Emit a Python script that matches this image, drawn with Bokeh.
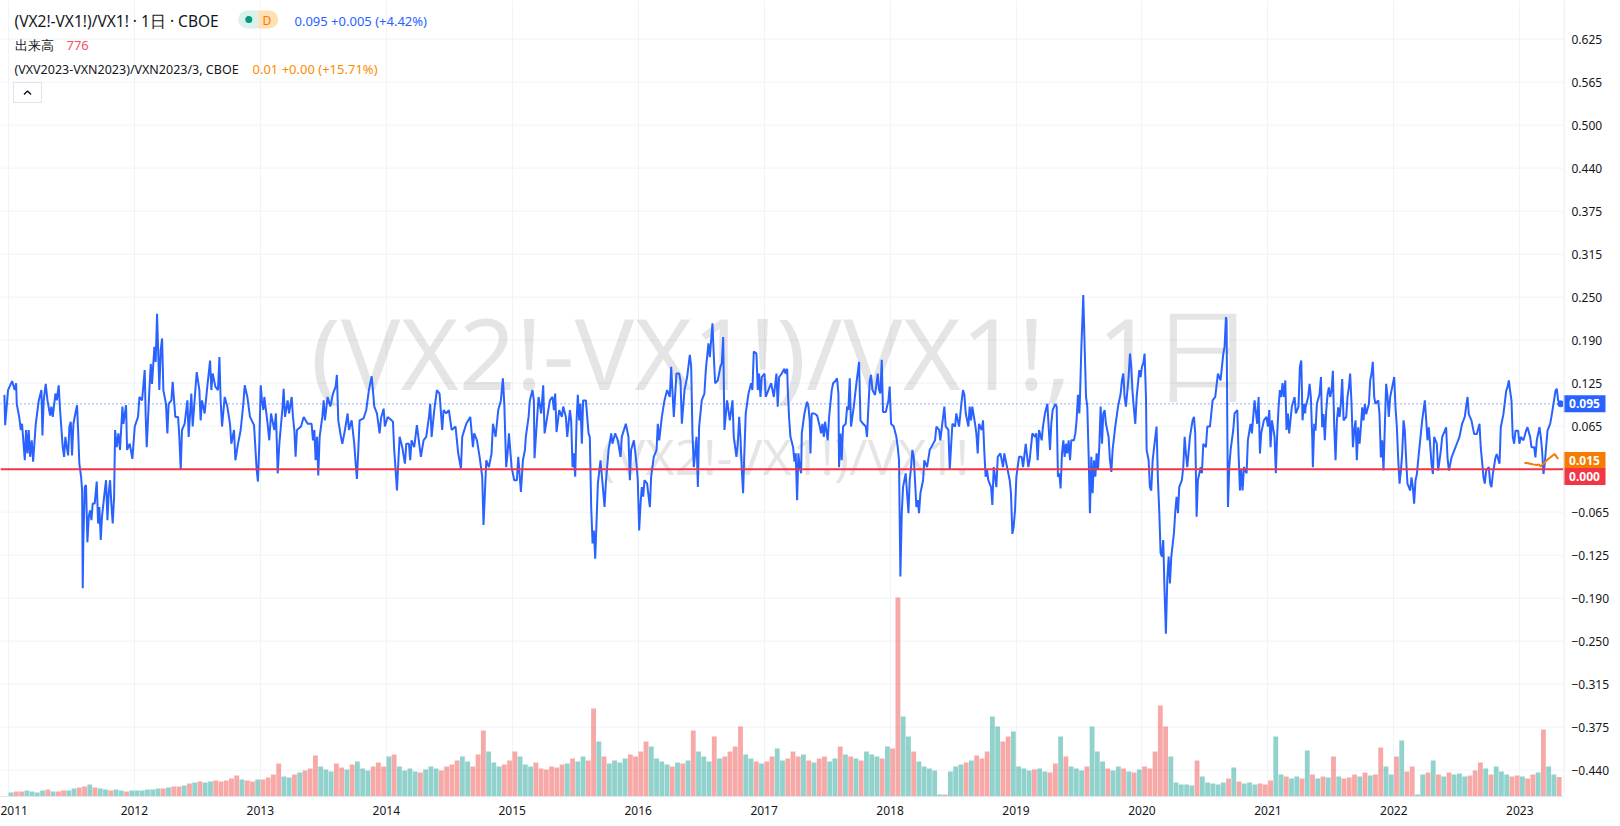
import numpy as np
from bokeh.plotting import figure
from bokeh.models import Range1d, FixedTicker, Label, Span, Grid
from bokeh.layouts import row
from bokeh.core.properties import value
from bokeh.embed import file_html
from bokeh.resources import INLINE

# ---------------- data ----------------
blue_t = [
2010.968,2010.974,2010.997,2011.029,2011.050,2011.061,2011.066,2011.087,2011.098,2011.108,2011.130,2011.140,2011.151,2011.161,2011.172,2011.185,2011.196,2011.206,2011.217,2011.241,
2011.262,2011.270,2011.280,2011.296,2011.310,2011.331,2011.341,2011.352,2011.373,2011.384,2011.399,2011.410,2011.431,2011.442,2011.452,2011.463,2011.474,2011.484,2011.495,2011.505,
2011.516,2011.537,2011.545,2011.553,2011.563,2011.577,2011.585,2011.590,2011.595,2011.606,2011.616,2011.627,2011.638,2011.648,2011.659,2011.669,2011.685,2011.701,2011.712,2011.722,
2011.733,2011.743,2011.765,2011.775,2011.786,2011.796,2011.807,2011.817,2011.828,2011.839,2011.847,2011.860,2011.873,2011.886,2011.905,2011.913,2011.934,2011.942,2011.963,2011.984,
2012.003,2012.029,2012.040,2012.061,2012.082,2012.090,2012.098,2012.119,2012.130,2012.140,2012.159,2012.169,2012.180,2012.188,2012.198,2012.209,2012.220,2012.230,2012.251,2012.262,
2012.272,2012.294,2012.304,2012.325,2012.347,2012.357,2012.368,2012.378,2012.399,2012.421,2012.431,2012.452,2012.463,2012.484,2012.495,2012.516,2012.526,2012.537,2012.558,2012.579,
2012.601,2012.611,2012.622,2012.643,2012.664,2012.675,2012.685,2012.696,2012.717,2012.738,2012.759,2012.770,2012.791,2012.802,2012.823,2012.844,2012.865,2012.876,2012.897,2012.918,
2012.950,2012.971,2012.981,2012.992,2013.003,2013.013,2013.024,
2013.032,2013.058,2013.071,2013.085,2013.111,2013.124,2013.138,2013.151,2013.177,2013.185,2013.196,2013.217,2013.228,2013.249,2013.259,2013.270,2013.280,2013.291,2013.323,2013.344,
2013.376,2013.407,2013.418,2013.429,2013.439,2013.450,2013.460,2013.471,2013.492,2013.503,2013.513,2013.534,2013.556,2013.577,2013.598,2013.608,2013.619,2013.640,2013.651,2013.672,
2013.693,2013.704,2013.725,2013.746,2013.757,2013.767,2013.778,2013.788,2013.820,2013.841,2013.862,2013.884,2013.894,2013.905,2013.926,2013.947,2013.958,2013.979,2013.989,2014.011,
2014.042,2014.053,2014.063,2014.074,2014.085,2014.095,2014.106,2014.127,2014.148,2014.159,2014.180,2014.190,2014.201,2014.222,2014.243,2014.265,2014.275,2014.296,2014.317,2014.339,
2014.349,2014.360,2014.381,2014.402,2014.423,2014.444,2014.455,2014.476,2014.497,2014.519,2014.550,2014.571,2014.593,2014.603,2014.635,2014.667,2014.688,2014.698,2014.720,2014.741,
2014.762,2014.772,2014.783,2014.794,2014.815,2014.836,2014.847,2014.868,2014.889,2014.910,2014.926,2014.937,2014.952,2014.963,2014.974,2014.995,2015.016,2015.037,2015.048,2015.069,
2015.085,2015.101,
2015.108,2015.130,2015.140,2015.161,2015.172,2015.177,2015.188,2015.209,2015.230,2015.246,2015.257,2015.278,2015.299,2015.320,2015.331,2015.341,2015.352,2015.373,2015.394,2015.405,
2015.426,2015.437,2015.458,2015.468,2015.479,2015.489,2015.500,2015.511,2015.521,2015.532,2015.542,2015.553,2015.563,2015.585,2015.606,2015.616,2015.627,2015.638,2015.648,2015.659,
2015.669,2015.680,2015.701,2015.722,2015.733,2015.743,2015.765,2015.786,2015.796,2015.817,2015.839,2015.860,2015.870,2015.902,2015.923,2015.934,2015.944,2015.966,2015.987,2015.997,
2016.008,2016.019,2016.029,2016.040,2016.050,2016.071,2016.093,2016.103,2016.124,2016.146,2016.156,2016.167,2016.188,2016.209,2016.230,2016.251,2016.262,2016.283,2016.304,2016.325,
2016.336,2016.347,2016.368,2016.389,2016.410,2016.421,2016.431,2016.442,2016.452,2016.463,2016.474,2016.484,2016.505,2016.526,2016.537,2016.558,2016.569,2016.590,2016.601,2016.611,
2016.632,2016.653,2016.664,2016.675,2016.685,2016.706,2016.728,2016.749,2016.759,2016.780,2016.791,2016.802,2016.812,2016.823,2016.833,2016.844,2016.854,2016.876,2016.897,2016.907,
2016.918,2016.939,2016.950,2016.960,2016.971,2016.981,2017.003,2017.013,2017.034,2017.056,2017.077,2017.098,2017.108,2017.119,2017.140,2017.161,
2017.169,2017.183,2017.188,2017.198,2017.209,2017.230,2017.241,2017.251,2017.262,2017.272,2017.283,2017.294,2017.299,2017.320,2017.341,2017.352,2017.362,2017.368,2017.378,2017.399,
2017.421,2017.442,2017.452,2017.463,2017.474,2017.484,2017.505,2017.516,2017.537,2017.548,2017.569,2017.579,2017.590,2017.595,2017.606,2017.616,2017.627,2017.648,2017.659,2017.669,
2017.680,2017.690,2017.712,2017.733,2017.754,2017.765,2017.786,2017.807,2017.817,2017.828,2017.839,2017.849,2017.860,2017.881,2017.902,2017.913,2017.923,2017.934,2017.944,2017.966,
2017.987,2017.997,2018.008,2018.029,2018.050,2018.061,2018.071,2018.082,2018.093,2018.103,2018.124,2018.135,2018.146,2018.156,2018.167,2018.177,2018.188,2018.198,2018.209,2018.220,
2018.230,2018.241,2018.262,2018.272,2018.294,2018.315,2018.336,2018.357,2018.368,2018.389,2018.399,2018.421,2018.431,2018.442,2018.463,2018.474,2018.484,2018.495,2018.516,2018.526,
2018.548,2018.569,2018.579,2018.590,2018.601,2018.622,2018.632,2018.643,2018.653,2018.675,2018.685,2018.696,2018.706,2018.728,2018.738,2018.749,2018.759,2018.770,2018.780,2018.802,
2018.812,2018.823,2018.844,2018.855,2018.876,2018.897,2018.907,2018.929,2018.950,2018.960,2018.971,2018.981,2018.992,2019.003,2019.024,2019.045,2019.056,2019.077,2019.098,2019.108,
2019.130,2019.151,2019.161,2019.172,2019.183,2019.204,2019.214,2019.230,
2019.249,2019.259,2019.270,2019.280,2019.291,2019.312,2019.323,2019.333,2019.344,2019.354,2019.365,2019.376,2019.386,2019.397,2019.407,2019.418,2019.429,2019.439,2019.460,2019.471,
2019.481,2019.492,2019.503,2019.508,2019.519,2019.529,2019.534,2019.545,2019.556,2019.566,2019.577,2019.587,2019.598,2019.608,2019.619,2019.630,2019.640,2019.651,2019.661,2019.672,
2019.683,2019.693,2019.704,2019.714,2019.735,2019.746,2019.757,2019.767,2019.788,2019.810,2019.831,2019.841,2019.852,2019.862,2019.873,2019.894,2019.905,2019.915,2019.926,2019.937,
2019.947,2019.958,2019.979,2019.989,2020.000,2020.011,2020.021,2020.032,2020.037,2020.053,2020.063,2020.074,2020.085,2020.106,2020.116,2020.127,2020.138,2020.148,2020.159,2020.169,
2020.180,2020.190,2020.201,2020.212,2020.222,2020.233,2020.254,2020.265,2020.275,2020.286,2020.296,2020.317,2020.328,2020.339,2020.349,2020.360,2020.381,2020.402,2020.413,2020.423,
2020.434,2020.444,2020.466,2020.476,2020.487,2020.508,2020.519,2020.540,2020.561,2020.582,2020.603,2020.624,2020.646,2020.656,2020.667,2020.672,2020.677,2020.683,2020.693,2020.704,
2020.725,2020.735,2020.757,2020.767,2020.778,2020.788,2020.799,2020.810,2020.831,2020.841,2020.862,2020.873,2020.894,2020.915,2020.926,2020.937,2020.947,2020.968,2020.989,2021.000,
2021.011,2021.021,2021.032,2021.053,2021.063,2021.074,2021.085,2021.095,2021.106,2021.116,2021.127,2021.138,2021.148,2021.159,2021.169,2021.190,2021.212,2021.222,2021.243,2021.254,
2021.265,2021.275,2021.286,2021.296,
2021.299,2021.320,2021.331,2021.341,2021.352,2021.357,2021.368,2021.378,2021.389,2021.410,2021.421,2021.431,2021.442,2021.452,2021.463,2021.474,2021.484,2021.495,2021.505,2021.516,
2021.526,2021.537,2021.548,2021.558,2021.569,2021.579,2021.590,2021.601,2021.622,2021.632,2021.643,2021.653,2021.664,2021.675,2021.685,2021.696,2021.706,2021.717,2021.728,2021.738,
2021.749,2021.759,2021.770,2021.780,2021.802,2021.812,2021.823,2021.833,2021.844,2021.854,2021.876,2021.886,2021.897,2021.907,2021.918,2021.929,2021.939,2021.950,2021.960,2021.971,
2021.992,2022.003,2022.013,2022.024,2022.034,2022.045,2022.056,2022.066,2022.077,2022.087,2022.098,2022.108,2022.130,2022.140,2022.151,2022.161,2022.172,2022.183,2022.193,2022.214,
2022.225,2022.246,2022.257,2022.267,2022.278,2022.299,2022.310,2022.320,2022.341,2022.352,2022.373,2022.384,2022.405,2022.415,2022.426,2022.437,2022.458,2022.479,2022.500,2022.521,
2022.542,2022.563,2022.585,2022.595,2022.616,2022.638,2022.659,2022.680,2022.690,2022.712,2022.722,2022.733,2022.754,2022.765,2022.775,2022.786,2022.807,2022.817,2022.839,2022.849,
2022.870,2022.892,2022.902,2022.913,2022.923,2022.934,2022.944,2022.955,2022.966,2022.987,2022.997,2023.008,2023.029,2023.050,2023.061,2023.082,2023.093,2023.114,2023.124,2023.135,
2023.156,2023.167,2023.177,2023.188,2023.198,2023.220,2023.241,2023.251,2023.272,2023.283,2023.294,2023.304,2023.315,2023.325,
]
blue_v = [
0.108,0.064,0.115,0.128,0.115,0.125,0.095,0.074,0.057,0.066,0.013,0.057,0.023,0.057,0.018,0.042,0.011,0.037,0.066,0.100,
0.115,0.049,0.100,0.124,0.100,0.078,0.091,0.076,0.110,0.100,0.122,0.086,0.032,0.018,0.047,0.032,0.020,0.062,0.069,0.020,
0.066,0.086,0.093,0.057,0.008,-0.011,-0.031,-0.173,-0.103,-0.026,-0.023,-0.106,-0.069,-0.060,-0.074,-0.050,-0.050,-0.018,-0.079,-0.055,
-0.103,-0.069,-0.031,-0.016,-0.074,-0.035,-0.016,-0.050,-0.079,-0.040,0.057,0.032,0.052,0.028,0.091,0.066,0.093,0.028,0.037,0.015,
0.062,0.076,0.105,0.100,0.144,0.076,0.032,0.115,0.153,0.124,0.178,0.156,0.226,0.178,0.115,0.173,0.190,0.115,0.095,0.052,
0.095,0.100,0.127,0.076,0.076,0.047,-0.001,0.057,0.066,0.100,0.047,0.110,0.062,0.115,0.141,0.115,0.071,0.100,0.081,0.120,
0.158,0.115,0.139,0.120,0.115,0.163,0.100,0.062,0.105,0.091,0.066,0.037,0.057,0.013,0.037,0.057,0.095,0.122,0.105,0.076,
0.064,-0.001,-0.018,0.037,0.122,0.100,0.086,
0.105,0.066,0.042,0.081,0.057,0.081,-0.006,0.037,0.091,0.117,0.076,0.100,0.081,0.105,0.076,0.057,0.018,0.057,0.062,0.076,
0.066,0.066,0.042,0.057,0.013,0.047,-0.009,0.047,0.076,0.100,0.071,0.105,0.091,0.110,0.120,0.137,0.071,0.047,0.037,0.057,
0.081,0.057,0.071,0.037,0.008,-0.014,0.028,0.071,0.074,0.086,0.115,0.135,0.115,0.091,0.081,0.052,0.074,0.088,0.062,0.076,
0.071,0.069,0.028,-0.001,-0.031,0.008,0.047,0.032,0.008,0.037,0.037,0.013,0.042,0.032,0.064,0.032,0.018,0.042,0.047,0.076,
0.095,0.047,0.086,0.115,0.110,0.057,0.086,0.081,0.086,0.057,0.062,0.023,0.001,0.047,0.066,0.076,0.032,0.052,0.042,0.018,
-0.011,-0.081,-0.035,0.013,0.003,0.023,0.066,0.047,0.086,0.100,0.132,0.095,0.003,0.023,0.052,0.003,-0.016,-0.016,0.018,-0.033,
0.013,0.028,
0.047,0.076,0.100,0.115,0.100,0.016,0.047,0.105,0.081,0.122,0.052,0.076,0.100,0.105,0.086,0.110,0.054,0.086,0.076,0.091,
0.076,0.047,0.086,0.071,0.003,0.023,-0.011,0.071,0.108,0.071,0.095,0.037,0.100,0.100,0.052,0.047,-0.055,-0.108,-0.089,-0.130,
-0.079,-0.021,0.013,-0.031,-0.055,-0.021,0.028,0.052,0.037,0.052,0.042,0.018,0.047,0.066,0.047,-0.016,0.028,0.042,0.008,-0.016,
-0.089,-0.050,-0.026,-0.040,-0.016,-0.021,-0.055,-0.011,0.018,0.028,0.066,0.042,0.076,0.100,0.115,0.105,0.149,0.076,0.139,0.139,
0.129,0.066,0.115,0.134,0.166,0.149,0.052,0.003,0.023,0.047,-0.026,0.062,0.100,0.110,0.144,0.183,0.163,0.212,0.163,0.125,
0.129,0.149,0.154,0.192,0.057,0.100,0.071,0.100,0.047,0.018,0.037,0.076,0.047,-0.001,-0.035,0.028,0.081,0.110,0.125,0.115,
0.171,0.168,0.115,0.139,0.105,0.134,0.139,0.105,0.115,0.125,0.105,0.139,0.091,0.134,0.139,0.146,
0.139,0.146,0.115,0.076,0.047,0.032,0.011,0.023,-0.045,0.023,0.003,-0.006,0.052,0.081,0.098,0.091,0.071,0.023,0.081,0.081,
0.078,0.062,0.052,0.066,0.047,0.069,0.042,0.076,0.115,0.125,0.129,0.132,0.110,0.003,0.052,0.013,0.062,0.066,0.091,0.086,
0.132,0.062,0.091,0.125,0.156,0.071,0.066,0.062,0.047,0.091,0.129,0.137,0.115,0.108,0.139,0.115,0.110,0.159,0.083,0.083,
0.100,0.120,0.066,0.062,0.047,0.032,0.013,-0.156,-0.064,-0.026,-0.006,-0.035,-0.064,-0.016,0.003,0.028,0.018,-0.016,-0.055,-0.045,
-0.064,-0.035,-0.016,0.013,0.003,0.028,0.035,0.042,0.062,0.057,0.042,0.076,0.091,0.062,0.057,-0.001,0.032,0.066,0.062,0.081,
0.062,0.100,0.115,0.108,0.081,0.062,0.091,0.071,0.091,0.066,0.052,0.023,0.066,0.057,0.071,0.023,-0.011,-0.001,-0.016,-0.026,
-0.052,0.003,-0.026,0.018,0.023,0.003,0.023,0.003,-0.016,-0.035,-0.094,-0.084,-0.060,-0.011,0.018,0.018,0.003,0.037,0.003,0.013,
0.052,0.047,0.052,0.013,0.057,0.042,0.062,0.081,
0.095,0.062,0.028,0.066,0.086,0.095,0.091,-0.011,-0.006,-0.028,0.023,0.042,0.018,0.037,0.023,0.042,0.013,0.042,0.042,0.052,
0.071,0.108,0.081,0.105,0.178,0.226,0.253,0.178,0.105,0.091,0.018,-0.064,0.018,-0.035,0.013,-0.011,0.023,-0.001,0.032,0.091,
0.037,0.081,0.086,0.066,0.047,0.013,-0.004,0.028,0.062,0.091,0.110,0.129,0.139,0.105,0.091,0.134,0.168,0.149,0.110,0.086,
0.066,0.105,0.144,0.134,0.149,0.154,0.168,0.105,0.028,0.013,-0.026,-0.031,0.013,0.047,0.062,-0.016,-0.064,-0.122,-0.127,-0.103,
-0.181,-0.239,-0.161,-0.127,-0.166,-0.127,-0.093,-0.060,-0.040,-0.064,-0.026,-0.016,0.003,0.047,0.023,0.003,0.047,0.071,0.076,0.052,
-0.069,-0.016,0.003,-0.006,0.037,0.032,0.062,0.062,0.100,0.105,0.139,0.129,0.168,0.178,0.221,0.216,0.081,-0.055,0.003,0.028,
0.057,0.081,0.086,0.023,-0.031,-0.001,-0.031,0.003,-0.006,0.042,0.066,0.052,0.100,0.066,0.105,0.023,0.052,0.071,0.076,0.062,
0.086,0.032,0.071,0.047,-0.006,0.052,0.091,0.115,0.105,0.125,0.105,0.129,0.057,0.081,0.052,0.091,0.105,0.081,0.091,0.149,
0.158,0.071,0.095,0.081,
0.090,0.105,0.124,0.105,0.047,0.003,0.066,0.056,0.095,0.109,0.134,0.061,0.080,0.042,0.085,0.109,0.119,0.105,0.114,0.143,
0.066,0.013,0.071,0.090,0.076,0.095,0.131,0.071,0.076,0.105,0.119,0.139,0.095,0.032,0.056,0.071,0.013,0.061,0.037,0.061,
0.090,0.071,0.095,0.080,0.095,0.129,0.139,0.156,0.105,0.095,0.100,0.080,0.017,0.042,-0.002,0.066,0.124,0.105,0.076,0.105,
0.124,0.134,0.090,0.061,0.017,-0.021,-0.002,0.022,0.071,0.056,0.013,-0.021,-0.031,-0.012,-0.026,-0.050,-0.016,-0.007,0.013,0.051,
0.071,0.100,0.071,0.042,0.061,0.008,-0.007,0.047,0.037,-0.002,0.027,0.047,0.056,0.061,0.017,-0.002,0.017,0.027,0.037,0.047,
0.066,0.076,0.105,0.080,0.071,0.051,0.051,0.066,0.032,-0.012,-0.021,-0.002,0.003,-0.021,-0.026,-0.007,0.017,0.022,0.008,0.061,
0.080,0.114,0.119,0.129,0.114,0.100,0.047,0.037,0.056,0.056,0.037,0.047,0.042,0.056,0.061,0.047,0.032,0.032,0.017,0.042,
0.061,0.047,0.027,-0.007,0.008,0.056,0.066,0.076,0.100,0.114,0.117,0.100,0.097,0.095,
]

orange_t = [2023.037,2023.056,2023.082,2023.108,2023.135,2023.151,2023.167,2023.183,2023.198,2023.220,2023.241,2023.262,2023.278,2023.288,2023.304]
orange_v = [0.009,0.009,0.008,0.007,0.006,0.007,0.004,0.007,0.010,0.014,0.017,0.020,0.022,0.019,0.015]

# volume, one value per half month from Jan 2011
volume = [
160,200,200,240,200,160,240,280,200,200,240,240,320,360,400,480,360,320,280,240,280,240,200,240,
240,240,280,280,320,320,360,400,400,440,520,560,600,560,600,640,600,640,720,840,680,640,600,680,
680,760,880,1320,800,760,880,960,1040,1120,1640,1200,1080,1000,1320,1160,1080,1280,1400,1120,1040,1200,1360,1200,
1600,1680,1200,1040,1120,1000,960,1080,1200,1120,1040,1200,1280,1440,1600,1400,1200,1680,2640,1800,1360,1200,1280,1440,
1800,1600,1280,1200,1360,1120,1080,1200,1160,1280,1320,1520,1400,1600,1440,3520,2200,1600,1320,1440,1360,1520,1680,1600,
1800,2200,2000,1520,1400,1280,1200,1360,1320,1440,2640,1800,1600,1400,2400,1520,1600,1800,2000,2800,1680,1520,1400,1320,
1400,1600,1920,1440,1520,1800,1600,1680,1440,1360,1520,1600,1400,1520,2000,1680,1600,1520,1440,1800,1680,1600,1520,2000,
1920,7960,3200,2400,1800,1400,1200,1120,1040,80,80,1000,1200,1280,1360,1440,1640,1520,1800,3200,2800,2200,2400,2600,
1200,1120,1040,1080,1120,1000,960,1320,2400,1600,1200,1120,1040,1200,2800,1800,1400,1120,1040,1200,1120,1000,960,1080,
1200,1120,1800,3640,2800,1600,560,480,480,440,1440,800,560,520,480,560,720,1160,600,520,560,480,520,480,
640,2400,880,800,720,800,720,1840,880,720,800,760,1600,800,720,760,880,800,960,840,880,1960,1200,880,
1600,2240,1000,1200,80,880,960,1440,880,800,960,880,920,800,840,1040,1360,1120,880,1200,1000,880,800,840,
800,720,880,960,2680,1200,880,776,
]

years = list(range(2011, 2024))
y_ticks = [-0.4375,-0.375,-0.3125,-0.25,-0.1875,-0.125,-0.0625,0.0,0.0625,0.125,0.1875,0.25,0.3125,0.375,0.4375,0.5,0.5625,0.625]
y_tick_labels = ["\u22120.440","\u22120.375","\u22120.315","\u22120.250","\u22120.190","\u22120.125","\u22120.065","",
                 "0.065","0.125","0.190","0.250","0.315","0.375","0.440","0.500","0.565","0.625"]

last_value = 0.095
ref_level = 0.0
box_texts = ["0.095", "0.015", "0.000"]

# ---------------- layout ----------------
FRAME_W, FRAME_H = 1563, 796
AXIS_W = 54
X0, X1 = 2010.937, 2023.347
Y0, Y1 = -0.47573, 0.68125
VOL_TOP = FRAME_H * 40

def px_x(px):   # page pixel -> data x
    return X0 + px * (X1 - X0) / FRAME_W

def px_y(py):   # page pixel -> data y
    return Y1 - py * (Y1 - Y0) / FRAME_H

FONT = "Noto Sans"
DARK = "#131722"
BLUE = "#2962ff"
ORANGE = "#f57c00"
RED = "#f23645"
GRID = "#f0f3fa"

p = figure(frame_width=FRAME_W, frame_height=FRAME_H,
           x_range=Range1d(X0, X1), y_range=Range1d(Y0, Y1),
           output_backend="svg", toolbar_location=None, title=None,
           y_axis_location=None,
           min_border_left=0, min_border_top=0, min_border_right=0, min_border_bottom=26,
           background_fill_color="white", border_fill_color="white",
           outline_line_color=None)
p.extra_y_ranges = {"vol": Range1d(0, VOL_TOP)}
p.center = [r for r in p.center if not (isinstance(r, Grid) and r.dimension == 1)]

xa = p.xaxis[0]
xa.ticker = FixedTicker(ticks=years)
xa.major_label_overrides = {y: str(y) for y in years}
xa.axis_line_color = "#e0e3eb"
xa.major_tick_line_color = None
xa.minor_tick_line_color = None
xa.major_label_standoff = 3
xa.major_label_text_font = FONT
xa.major_label_text_font_size = "12px"
xa.major_label_text_color = DARK
p.xgrid.grid_line_color = GRID

for t in y_ticks:
    p.add_layout(Span(location=t, dimension="width", line_color=GRID, line_width=1, level="underlay"))

# watermark (font sizes avoid "N00px", which the svg backend reads as a weight)
p.add_layout(Label(x=px_x(782), y=px_y(351), text="(VX2!-VX1!)/VX1!, 1日",
                   text_align="center", text_baseline="middle",
                   text_font=FONT, text_font_size="99.5px",
                   text_color="#000000", text_alpha=0.1, level="underlay"))
p.add_layout(Label(x=px_x(784), y=px_y(455), text="(VX2!-VX1!)/VX1!",
                   text_align="center", text_baseline="middle",
                   text_font=FONT, text_font_size="50px",
                   text_color="#000000", text_alpha=0.1, level="underlay"))

# volume
bt = np.array(blue_t)
bv = np.array(blue_v)
vol = np.array(volume, dtype=float)
vt = 2011 + (np.arange(len(vol)) + 0.5) / 24.0
prev = np.interp(vt - 1 / 48.0, bt, bv)
nxt = np.interp(vt + 1 / 48.0, bt, bv)
vcol = np.where(nxt >= prev, "#26a69a", "#ef5350")
p.vbar(x=vt, top=vol, bottom=0, width=0.92 / 24.0, fill_color=list(vcol),
       fill_alpha=0.5, line_color=None, y_range_name="vol")

# series
p.line(blue_t, blue_v, line_color=BLUE, line_width=2)
p.line(orange_t, orange_v, line_color=ORANGE, line_width=2)
p.scatter([blue_t[-1]], [blue_v[-1]], size=6, color=BLUE)

p.add_layout(Span(location=last_value, dimension="width", line_color=BLUE,
                  line_width=1, line_dash="1 3"))
p.add_layout(Span(location=ref_level, dimension="width", line_color=RED, line_width=2))

# legend area
def txt(x, y, s, color=DARK, size="13px"):
    p.add_layout(Label(x=px_x(x), y=px_y(y), text=s, text_align="left",
                       text_baseline="middle", text_font=FONT, text_font_size=size,
                       text_color=color))

txt(14, 20, "(VX2!-VX1!)/VX1! · 1日 · CBOE", size="15.5px")
txt(294, 20.5, "0.095  +0.005  (+4.42%)", color=BLUE)
txt(14, 44.5, "出来高")
txt(66, 44.5, "776", color="#f7525f")
txt(14, 68.5, "(VXV2023-VXN2023)/VXN2023/3, CBOE", size="12.5px")
txt(252, 68.5, "0.01  +0.00  (+15.71%)", color="#fb8c00")

# status pill
p.quad(left=[px_x(246.7)], right=[px_x(257.7)], top=[px_y(10)], bottom=[px_y(28)],
       fill_color="#daf1ec", line_color=None)
p.scatter([px_x(246.7)], [px_y(19)], size=18, color="#daf1ec", line_color=None)
p.quad(left=[px_x(257.7)], right=[px_x(268.7)], top=[px_y(10)], bottom=[px_y(28)],
       fill_color="#ffe0b2", line_color=None)
p.scatter([px_x(268.7)], [px_y(19)], size=18, color="#ffe0b2", line_color=None)
p.scatter([px_x(248.3)], [px_y(19)], size=7, color="#089981", line_color=None)
p.add_layout(Label(x=px_x(266.5), y=px_y(19.5), text="D", text_align="center",
                   text_baseline="middle", text_font=FONT, text_font_size="12px",
                   text_color=ORANGE))

# collapse button
p.quad(left=[px_x(13)], right=[px_x(41)], top=[px_y(82)], bottom=[px_y(102)],
       fill_color="white", line_color="#e0e3eb", line_width=1)
p.line([px_x(23.5), px_x(27), px_x(30.5)], [px_y(94), px_y(90.5), px_y(94)],
       line_color=DARK, line_width=1.5)

# ---------------- price scale (right) ----------------
q = figure(frame_width=AXIS_W, frame_height=FRAME_H,
           x_range=Range1d(0, AXIS_W), y_range=p.y_range,
           output_backend="svg", toolbar_location=None, title=None,
           x_axis_location=None, y_axis_location=None,
           min_border_left=0, min_border_top=0, min_border_right=0, min_border_bottom=26,
           background_fill_color="white", border_fill_color="white",
           outline_line_color=None)
q.center = [r for r in q.center if not isinstance(r, Grid)]
q.add_layout(Span(location=0.5, dimension="height", line_color="#e0e3eb", line_width=1))

q.text(x=[8] * len(y_ticks), y=y_ticks, text=y_tick_labels,
       text_align="left", text_baseline="middle", text_font=value(FONT),
       text_font_size="12px", text_color=DARK)

box_y = [last_value, px_y(460), px_y(476)]
box_col = [BLUE, ORANGE, RED]
q.rect(x=[21] * 3, y=box_y, width=42, height=17, height_units="screen",
       fill_color=box_col, line_color=None)
q.text(x=[21] * 3, y=box_y, text=box_texts, text_align="center", text_baseline="middle",
       text_font=value(FONT), text_font_size="12px", text_font_style="bold",
       text_color="white")

layout = row(p, q)
open("out.html", "w", encoding="utf-8").write(file_html(layout, INLINE, title="chart"))
